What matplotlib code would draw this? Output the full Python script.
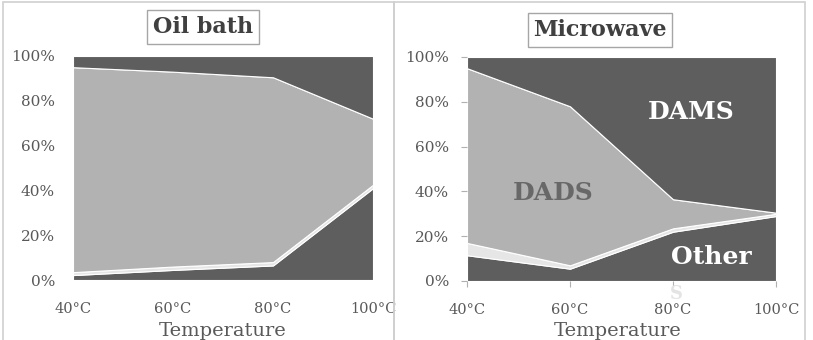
import matplotlib.pyplot as plt
from matplotlib.patches import Rectangle

# temperatures (x categories)
temps = ['40°C', '60°C', '80°C', '100°C']

# Oil bath, % of product (stacked bottom -> top)
other_oil = [2.2, 4.5, 6.5, 41.0]
s_oil = [1.3, 1.5, 1.5, 1.5]
dads_oil = [91.5, 87.0, 82.5, 29.5]
dams_oil = [5.0, 7.0, 9.5, 28.0]

# Microwave
other_mw = [11.5, 5.5, 22.0, 29.0]
s_mw = [5.5, 1.5, 1.5, 1.0]
dads_mw = [78.0, 71.0, 13.0, 0.5]
dams_mw = [5.0, 22.0, 63.5, 69.5]

yticks = [0, 20, 40, 60, 80, 100]
ytick_labels = ['0%', '20%', '40%', '60%', '80%', '100%']

dark = '#5e5e5e'
light = '#b2b2b2'
pale = '#e6e6e6'
txt = '#595959'

W, H = 813, 340
fig = plt.figure(figsize=(W / 100, H / 100), dpi=100)
plt.rcParams['font.family'] = 'DejaVu Serif'


def px_axes(x0, y_top, x1, y_bot):
    return fig.add_axes([x0 / W, 1 - y_bot / H, (x1 - x0) / W, (y_bot - y_top) / H])


# panel frames
for x0, x1 in [(3, 394), (394, 805)]:
    fig.add_artist(Rectangle((x0 / W, -0.01), (x1 - x0) / W, 1 - 2 / H + 0.01,
                             transform=fig.transFigure, fill=False,
                             edgecolor='#cfcfcf', linewidth=1.2))


def panel(ax, series, ticklen):
    x = list(range(len(temps)))
    ax.stackplot(x, *series, colors=[dark, pale, light, dark],
                 edgecolor='white', linewidth=0.8)
    ax.set_xlim(0, 3)
    ax.set_ylim(0, 100)
    ax.set_xticks(x)
    ax.set_xticklabels(temps)
    ax.set_yticks(yticks)
    ax.set_yticklabels(ytick_labels)
    ax.tick_params(axis='y', length=ticklen, pad=13 - ticklen, colors='#b0b0b0',
                   labelcolor=txt, labelsize=11)
    ax.tick_params(axis='x', length=ticklen, pad=16 - ticklen, colors='#b0b0b0',
                   labelcolor=txt, labelsize=10.5)
    for s in ax.spines.values():
        s.set_visible(False)


ax1 = px_axes(73, 56, 373, 280)
panel(ax1, [other_oil, s_oil, dads_oil, dams_oil], 0)

ax2 = px_axes(467, 57, 776, 281)
panel(ax2, [other_mw, s_mw, dads_mw, dams_mw], 4)

# titles in boxes
box = dict(boxstyle='square,pad=0.25', facecolor='white', edgecolor='#a6a6a6', linewidth=1)
fig.text(203 / W, 1 - 27 / H, 'Oil bath', ha='center', va='center', fontsize=16,
         fontweight='bold', color='#404040', bbox=box)
fig.text(600 / W, 1 - 30 / H, 'Microwave', ha='center', va='center', fontsize=16,
         fontweight='bold', color='#404040', bbox=box)

# axis titles
fig.text(223 / W, 1 - 331 / H, 'Temperature', ha='center', va='center', fontsize=14, color=txt)
fig.text(618 / W, 1 - 331 / H, 'Temperature', ha='center', va='center', fontsize=14, color=txt)

# series labels on microwave chart
fig.text(691 / W, 1 - 112 / H, 'DAMS', ha='center', va='center', fontsize=18,
         fontweight='bold', color='white')
fig.text(553 / W, 1 - 193 / H, 'DADS', ha='center', va='center', fontsize=18,
         fontweight='bold', color='#686868')
fig.text(711 / W, 1 - 257 / H, 'Other', ha='center', va='center', fontsize=18,
         fontweight='bold', color='white')
fig.text(676 / W, 1 - 294 / H, 'S', ha='center', va='center', fontsize=13,
         fontweight='bold', color='#e4e4e4')

fig.savefig('out.png', dpi=100)
